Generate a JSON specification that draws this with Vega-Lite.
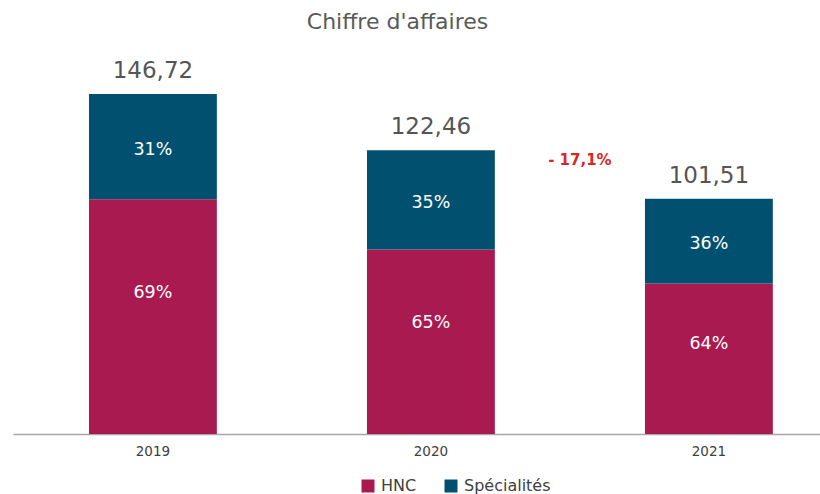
{
  "$schema": "https://vega.github.io/schema/vega-lite/v6.json",
  "autosize": "none",
  "width": 807,
  "height": 394,
  "padding": {"left": 13, "top": 40, "right": 0, "bottom": 60},
  "background": "white",
  "title": {
    "text": "Chiffre d'affaires",
    "fontSize": 22,
    "font": "DejaVu Sans",
    "fontWeight": "normal",
    "color": "#595959",
    "anchor": "middle",
    "frame": "group",
    "dx": -19,
    "offset": 6
  },
  "datasets": {
    "segments": [
      {"year": "2019", "category": "HNC", "value": 101.24, "pct": "69%"},
      {"year": "2019", "category": "Spécialités", "value": 45.48, "pct": "31%"},
      {"year": "2020", "category": "HNC", "value": 79.6, "pct": "65%"},
      {"year": "2020", "category": "Spécialités", "value": 42.86, "pct": "35%"},
      {"year": "2021", "category": "HNC", "value": 64.97, "pct": "64%"},
      {"year": "2021", "category": "Spécialités", "value": 36.54, "pct": "36%"}
    ],
    "totals": [
      {"year": "2019", "total": 146.72, "label": "146,72"},
      {"year": "2020", "total": 122.46, "label": "122,46"},
      {"year": "2021", "total": 101.51, "label": "101,51"}
    ],
    "notes": [
      {"year": "2020", "value": 118.2, "label": "- 17,1%"}
    ]
  },
  "encoding": {
    "x": {
      "field": "year",
      "type": "nominal",
      "scale": {"domain": ["2019", "2020", "2021"], "paddingInner": 0.54, "paddingOuter": 0.2215, "align": 0.617},
      "axis": {
        "title": null,
        "labelAngle": 0,
        "labelFont": "DejaVu Sans",
        "labelFontSize": 13.5,
        "labelColor": "#404040",
        "labelPadding": 10,
        "ticks": false,
        "domainColor": "#a6a6a6",
        "domainWidth": 1.5
      }
    }
  },
  "layer": [
    {
      "data": {"name": "segments"},
      "mark": {"type": "bar"},
      "encoding": {
        "y": {"field": "value", "type": "quantitative", "stack": "zero", "scale": {"domain": [0, 170], "nice": false}, "axis": null},
        "color": {
          "field": "category",
          "type": "nominal",
          "scale": {"domain": ["HNC", "Spécialités"], "range": ["#A91A50", "#02506F"]},
          "legend": {
            "title": null,
            "orient": "none",
            "direction": "horizontal",
            "legendX": 347,
            "legendY": 438,
            "symbolType": "square",
            "symbolSize": 169,
            "symbolStrokeWidth": 0,
            "labelFont": "DejaVu Sans",
            "labelFontSize": 16,
            "labelColor": "#404040",
            "columnPadding": 26,
            "labelOffset": 5
          }
        },
        "order": {"field": "category", "sort": "ascending"}
      }
    },
    {
      "data": {"name": "segments"},
      "mark": {"type": "text", "color": "white", "font": "DejaVu Sans", "fontSize": 17.5, "baseline": "middle"},
      "encoding": {
        "y": {"field": "value", "type": "quantitative", "stack": "zero", "bandPosition": 0.6},
        "detail": {"field": "category"},
        "order": {"field": "category", "sort": "ascending"},
        "text": {"condition": {"test": "datum.category === 'HNC'", "field": "pct"}, "value": ""}
      }
    },
    {
      "data": {"name": "segments"},
      "mark": {"type": "text", "color": "white", "font": "DejaVu Sans", "fontSize": 17.5, "baseline": "middle"},
      "encoding": {
        "y": {"field": "value", "type": "quantitative", "stack": "zero", "bandPosition": 0.47},
        "detail": {"field": "category"},
        "order": {"field": "category", "sort": "ascending"},
        "text": {"condition": {"test": "datum.category !== 'HNC'", "field": "pct"}, "value": ""}
      }
    },
    {
      "data": {"name": "totals"},
      "mark": {"type": "text", "color": "#555555", "font": "DejaVu Sans", "fontSize": 23, "baseline": "alphabetic", "dy": -16},
      "encoding": {
        "y": {"field": "total", "type": "quantitative"},
        "text": {"field": "label"}
      }
    },
    {
      "data": {"name": "notes"},
      "mark": {"type": "text", "color": "#D9281F", "font": "DejaVu Sans", "fontSize": 15, "fontWeight": "bold", "baseline": "middle", "dx": 149},
      "encoding": {
        "y": {"field": "value", "type": "quantitative"},
        "text": {"field": "label"}
      }
    }
  ],
  "config": {
    "view": {"stroke": null}
  }
}
